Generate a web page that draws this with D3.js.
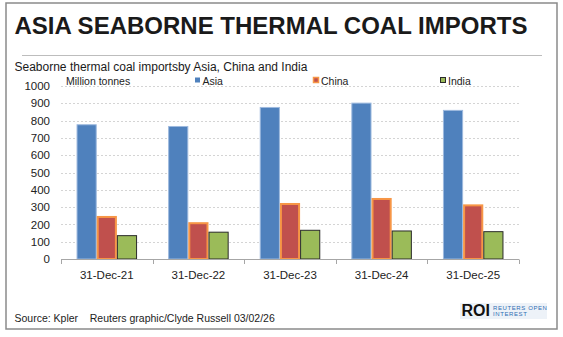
<!DOCTYPE html>
<html>
<head>
<meta charset="utf-8">
<script src="https://cdn.jsdelivr.net/npm/d3@7/dist/d3.min.js"></script>
<style>
  html, body { margin: 0; padding: 0; background: #fff; }
  svg { display: block; font-family: "Liberation Sans", Arial, sans-serif; }
</style>
</head>
<body>
<svg id="chart" width="563" height="337"></svg>
<script>
const categories = ["31-Dec-21", "31-Dec-22", "31-Dec-23", "31-Dec-24", "31-Dec-25"];
const seriesNames = ["Asia", "China", "India"];
const asia  = [776, 766, 876, 901, 859];
const china = [243, 207, 318, 347, 310];
const india = [135, 155, 166, 162, 158];
const yTicks = [0, 100, 200, 300, 400, 500, 600, 700, 800, 900, 1000];

const seriesValues = { Asia: asia, China: china, India: india };
const styles = {
  Asia:  { fill: "#4F81BD", stroke: "#9DB9DE", sw: 1 },
  China: { fill: "#C0504D", stroke: "#F79646", sw: 2 },
  India: { fill: "#9BBB59", stroke: "#2b2b2b", sw: 1 }
};

const svg = d3.select("#chart");

// frame
svg.append("rect").attr("x", 6).attr("y", 3).attr("width", 551).attr("height", 326)
  .attr("fill", "#fff").attr("stroke", "#8a8a8a").attr("stroke-width", 1.5);

// title
svg.append("text").attr("x", 14.5).attr("y", 34)
  .attr("font-size", 24).attr("font-weight", "bold").attr("fill", "#1a1a1a")
  .text("ASIA SEABORNE THERMAL COAL IMPORTS");
svg.append("line").attr("x1", 22).attr("x2", 542).attr("y1", 55.5).attr("y2", 55.5)
  .attr("stroke", "#bdbdbd").attr("stroke-width", 1);
svg.append("text").attr("x", 14.5).attr("y", 71)
  .attr("font-size", 12).attr("fill", "#1a1a1a")
  .text("Seaborne thermal coal importsby Asia, China and India");

// scales
const x0 = d3.scaleBand().domain(categories).range([61, 519]).paddingInner(0).paddingOuter(0);
const x1 = d3.scaleBand().domain(seriesNames).range([0, x0.bandwidth()]).paddingInner(0).paddingOuter(0.77);
const y = d3.scaleLinear().domain([0, 1000]).range([259, 86]);

// gridlines
svg.append("g").selectAll("line").data(yTicks.filter(d => d > 0)).join("line")
  .attr("x1", 61).attr("x2", 519)
  .attr("y1", d => Math.round(y(d)) + 0.5).attr("y2", d => Math.round(y(d)) + 0.5)
  .attr("stroke", "#d4d4d4").attr("stroke-width", 1).attr("stroke-dasharray", "2,2");

// y axis labels
const yAxis = d3.axisLeft(y).tickValues(yTicks).tickFormat(d3.format("d")).tickSize(0).tickPadding(0);
const gy = svg.append("g").attr("transform", "translate(50,0)").call(yAxis);
gy.select(".domain").remove();
gy.selectAll("text").attr("font-size", 11.5).attr("fill", "#222")
  .attr("font-family", "Liberation Sans, Arial, sans-serif");

// bars
const groups = svg.append("g").selectAll("g").data(categories).join("g")
  .attr("transform", d => `translate(${x0(d)},0)`);
groups.selectAll("rect")
  .data((c, i) => seriesNames.map(s => ({ s, v: seriesValues[s][i] })))
  .join("rect")
  .attr("x", d => x1(d.s) + (d.s === "China" ? 1 : 0.5))
  .attr("width", d => x1.bandwidth() - (d.s === "China" ? 2 : 1))
  .attr("y", d => y(d.v))
  .attr("height", d => y(0) - y(d.v))
  .attr("fill", d => styles[d.s].fill)
  .attr("stroke", d => styles[d.s].stroke)
  .attr("stroke-width", d => styles[d.s].sw);

// x axis
svg.append("line").attr("x1", 61).attr("x2", 519).attr("y1", 259.5).attr("y2", 259.5)
  .attr("stroke", "#a6a6a6").attr("stroke-width", 1);
const bounds = categories.map(c => x0(c)).concat([x0.range()[1]]);
svg.append("g").selectAll("line").data(bounds).join("line")
  .attr("x1", d => Math.round(d) + 0.5).attr("x2", d => Math.round(d) + 0.5)
  .attr("y1", 259.5).attr("y2", 264)
  .attr("stroke", "#a6a6a6").attr("stroke-width", 1);
const xAxis = d3.axisBottom(x0).tickSize(0).tickPadding(0);
const gx = svg.append("g").attr("transform", "translate(0,279)").call(xAxis);
gx.select(".domain").remove();
gx.selectAll("text").attr("font-size", 11.5).attr("fill", "#222").attr("dy", 0)
  .attr("font-family", "Liberation Sans, Arial, sans-serif");

// legend
svg.append("text").attr("x", 66).attr("y", 84.5).attr("font-size", 10.5).attr("fill", "#222")
  .text("Million tonnes");
const legX = { Asia: 195, China: 313.5, India: 440.5 };
seriesNames.forEach(s => {
  const g = svg.append("g");
  const st = styles[s];
  if (s === "Asia") {
    g.append("rect").attr("x", legX[s]).attr("y", 77.5).attr("width", 5).attr("height", 5).attr("fill", st.fill);
  } else {
    g.append("rect").attr("x", legX[s]).attr("y", 77.5).attr("width", 5).attr("height", 5)
      .attr("fill", st.fill).attr("stroke", st.stroke).attr("stroke-width", s === "China" ? 1.5 : 1);
  }
  g.append("text").attr("x", legX[s] + 7.5).attr("y", 84.5).attr("font-size", 10.5).attr("fill", "#222").text(s);
});

// footer
svg.append("text").attr("x", 14.5).attr("y", 322).attr("font-size", 10.5).attr("fill", "#222")
  .attr("xml:space", "preserve")
  .text("Source: Kpler    Reuters graphic/Clyde Russell 03/02/26");

// logo
svg.append("rect").attr("x", 460).attr("y", 303).attr("width", 87).attr("height", 16).attr("fill", "#edf2f8");
svg.append("text").attr("x", 461.5).attr("y", 316).attr("font-size", 16).attr("font-weight", "bold")
  .attr("fill", "#111").text("ROI");
svg.append("text").attr("x", 493).attr("y", 310).attr("font-size", 6).attr("fill", "#2f6db3")
  .attr("letter-spacing", 0.6).text("REUTERS OPEN");
svg.append("text").attr("x", 493).attr("y", 316).attr("font-size", 6).attr("fill", "#2f6db3")
  .attr("letter-spacing", 0.6).text("INTEREST");
</script>
</body>
</html>
